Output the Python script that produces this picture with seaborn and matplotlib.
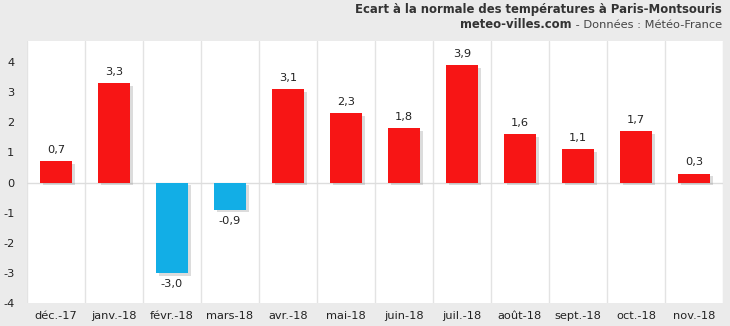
import matplotlib
matplotlib.use("Agg")
import matplotlib.pyplot as plt
import matplotlib.patheffects as pe
import seaborn as sns
import pandas as pd

months = ["déc.-17", "janv.-18", "févr.-18", "mars-18", "avr.-18", "mai-18",
          "juin-18", "juil.-18", "août-18", "sept.-18", "oct.-18", "nov.-18"]
values = [0.7, 3.3, -3.0, -0.9, 3.1, 2.3, 1.8, 3.9, 1.6, 1.1, 1.7, 0.3]
yticks = [-4, -3, -2, -1, 0, 1, 2, 3, 4]

title = "Ecart à la normale des températures à Paris-Montsouris"
source_bold = "meteo-villes.com"
source_rest = " - Données : Météo-France"

sns.set_theme(style="white")
plt.rcParams['font.family'] = ['DejaVu Sans']

df = pd.DataFrame({"mois": months, "val": values,
                   "signe": ["pos" if v >= 0 else "neg" for v in values]})

bg = "#ebebeb"
fig = plt.figure(figsize=(7.3, 3.26), dpi=100, facecolor=bg)
ax = fig.add_axes([27/730, 1 - 303/326, (723-27)/730, (303-41)/326])
ax.set_facecolor("white")

sns.barplot(data=df, x="mois", y="val", hue="signe",
            palette={"pos": "#f71515", "neg": "#12aee6"},
            saturation=1, linewidth=0,
            dodge=False, width=0.55, legend=False, ax=ax, zorder=3)

for p in ax.patches:
    p.set_linewidth(0)
    p.set_path_effects([pe.SimplePatchShadow(offset=(2, -2), shadow_rgbFace="#777777", alpha=0.25), pe.Normal()])

ax.set_ylim(-4, 4.7)
ax.set_xlim(-0.5, len(months) - 0.5)
ax.set_yticks(yticks)
ax.set_yticklabels([str(t) for t in yticks])
for i in range(len(months) + 1):
    ax.axvline(i - 0.5, color="#e3e3e3", lw=1, zorder=1)
ax.axhline(0, color="#dddddd", lw=1, zorder=2)

for s in ax.spines.values():
    s.set_visible(False)
ax.tick_params(axis="both", length=0, labelsize=8.2, colors="#222222")
ax.tick_params(axis="y", pad=9)
ax.tick_params(axis="x", pad=6)
ax.set_xlabel("")
ax.set_ylabel("")

for i, v in enumerate(values):
    lbl = f"{v:.1f}".replace(".", ",")
    if v >= 0:
        ax.annotate(lbl, (i, v), xytext=(0, 4.5), textcoords="offset points",
                    ha="center", va="bottom", fontsize=8.2, color="#222222")
    else:
        ax.annotate(lbl, (i, v), xytext=(0, -4.5), textcoords="offset points",
                    ha="center", va="top", fontsize=8.2, color="#222222")

fig.text(722/730, 1 - 10/326, title, ha="right", va="center",
         fontsize=8.4, fontweight="bold", color="#333333")
t2 = fig.text(722/730, 1 - 25/326, source_rest, ha="right", va="center",
              fontsize=8.2, color="#444444")
fig.canvas.draw()
bb = t2.get_window_extent()
fig.text(bb.x0 / fig.bbox.width, 1 - 25/326, source_bold, ha="right", va="center",
         fontsize=8.4, fontweight="bold", color="#333333")

fig.savefig("out.png", dpi=100, facecolor=bg)
